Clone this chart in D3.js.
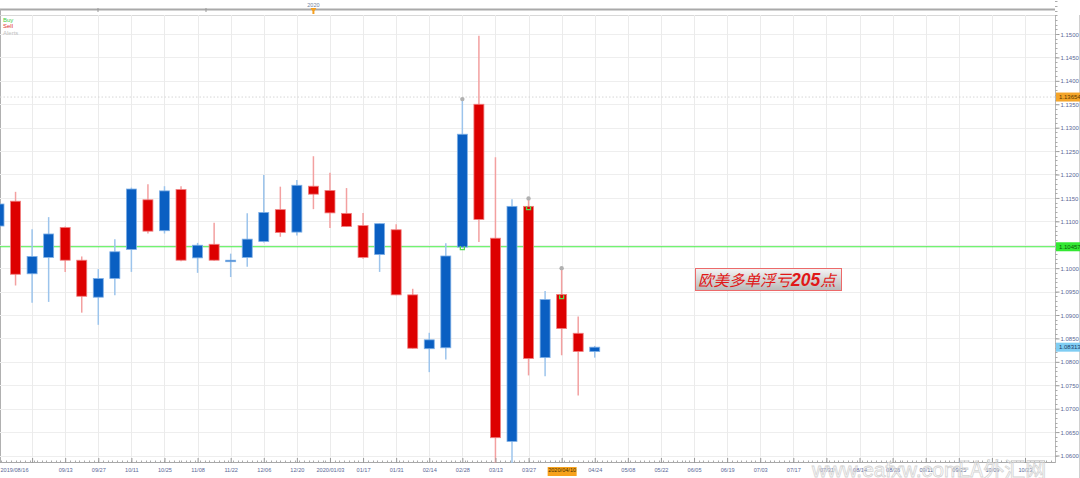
<!DOCTYPE html>
<html><head><meta charset="utf-8">
<script src="https://cdn.jsdelivr.net/npm/d3@7"></script>
<style>body{margin:0;background:#fff;overflow:hidden} svg{display:block}</style>
</head><body><svg id="c" width="1080" height="478"></svg>
<script>
// ---- data ----
const dates = ["2019-08-16","2019-08-23","2019-08-30","2019-09-06","2019-09-13","2019-09-20","2019-09-27","2019-10-04","2019-10-11","2019-10-18","2019-10-25","2019-11-01","2019-11-08","2019-11-15","2019-11-22","2019-11-29","2019-12-06","2019-12-13","2019-12-20","2019-12-27","2020-01-03","2020-01-10","2020-01-17","2020-01-24","2020-01-31","2020-02-07","2020-02-14","2020-02-21","2020-02-28","2020-03-06","2020-03-13","2020-03-20","2020-03-27","2020-04-03","2020-04-10","2020-04-17","2020-04-24"];
const open  = [1.1090,1.1143,1.0988,1.1023,1.1087,1.1017,1.0938,1.0978,1.1040,1.1146,1.1080,1.1168,1.1022,1.1051,1.1015,1.1023,1.1057,1.1125,1.1077,1.1175,1.1166,1.1117,1.1091,1.1029,1.1082,1.0943,1.0828,1.0830,1.1045,1.1350,1.1064,1.0630,1.1132,1.0809,1.0944,1.0861,1.0822];
const high  = [1.1150,1.1163,1.1083,1.1109,1.1089,1.1025,1.0998,1.1062,1.1172,1.1179,1.1175,1.1175,1.1054,1.1097,1.1031,1.1117,1.1199,1.1174,1.1188,1.1239,1.1204,1.1171,1.1118,1.1096,1.1094,1.0956,1.0862,1.1053,1.1361,1.1496,1.1237,1.1147,1.1149,1.0951,1.1000,1.0897,1.0834];
const low   = [1.1065,1.0963,1.0926,1.0928,1.0992,1.0905,1.0879,1.0942,1.0992,1.1074,1.1074,1.1015,1.0990,1.1016,1.0981,1.1003,1.1055,1.1067,1.1070,1.1126,1.1086,1.1088,1.1020,1.0992,1.0942,1.0828,1.0778,1.0805,1.1044,1.1056,1.0581,1.0579,1.0771,1.0769,1.0814,1.0728,1.0809];
const close = [1.1137,1.0987,1.1025,1.1073,1.1017,1.0940,1.0978,1.1035,1.1169,1.1079,1.1165,1.1017,1.1049,1.1017,1.1017,1.1062,1.1119,1.1076,1.1177,1.1158,1.1118,1.1089,1.1023,1.1095,1.0943,1.0829,1.0847,1.1026,1.1286,1.1104,1.0638,1.1132,1.0807,1.0933,1.0871,1.0822,1.08313];

const yTicks = [1.0600,1.0650,1.0700,1.0750,1.0800,1.0850,1.0900,1.0950,1.1000,1.1050,1.1100,1.1150,1.1200,1.1250,1.1300,1.1350,1.1400,1.1450,1.1500];
const xTickDates = ["2019-08-16","2019-08-30","2019-09-13","2019-09-27","2019-10-11","2019-10-25","2019-11-08","2019-11-22","2019-12-06","2019-12-20","2020-01-03","2020-01-17","2020-01-31","2020-02-14","2020-02-28","2020-03-13","2020-03-27","2020-04-10","2020-04-24","2020-05-08","2020-05-22","2020-06-05","2020-06-19","2020-07-03","2020-07-17","2020-07-31","2020-08-14","2020-08-28","2020-09-11","2020-09-25","2020-10-09","2020-10-23"];
const xTickLabels = ["2019/08/16","","09/13","09/27","10/11","10/25","11/08","11/22","12/06","12/20","2020/01/03","01/17","01/31","02/14","02/28","03/13","03/27","2020/04/10","04/24","05/08","05/22","06/05","06/19","07/03","07/17","07/31","08/14","08/28","09/11","09/25","10/09","10/23"];
const highlightLabel = "2020/04/10";

const priceLines = [
  {name:"entry", value:1.10457, label:"1.10457"},
  {name:"peak", value:1.13654, label:"1.13654"},
  {name:"last", value:1.08313, label:"1.08313"}
];
const dotIdx = [28, 32, 34];
const dotVals = [1.1361, 1.1149, 1.1000];
const buyIdx = [28, 32, 34];
const buyVals = [1.1043, 1.1128, 1.0938];
const legendItems = ["Buy","Sell","Alerts"];
const annotation = {pre:"欧美多单浮亏", num:"205", post:"点"};
const topYear = {date:"2019-12-27", text:"2020"};

// ---- layout ----
const W = 1080, H = 478;
const plotR = 1055, plotT = 15, plotB = 463;
const parse = d3.timeParse("%Y-%m-%d");
const x = d3.scaleTime().domain([parse("2019-08-16"), parse("2020-10-23")]).range([-1, 1025]);
const y = d3.scaleLinear().domain([1.06, 1.15]).range([455.5, 34]);

const svg = d3.select("#c");
const font = "'Liberation Sans', Arial, sans-serif";
const axisCol = "#5a6796";

// top bar
svg.append("line").attr("x1",0).attr("x2",plotR).attr("y1",9.5).attr("y2",9.5).attr("stroke","#a9a9a9").attr("stroke-width",2);
svg.append("line").attr("x1",0.5).attr("x2",0.5).attr("y1",9).attr("y2",plotB).attr("stroke","#b0b0b0");
[98,206].forEach(v=>svg.append("line").attr("x1",v).attr("x2",v).attr("y1",8).attr("y2",12).attr("stroke","#999"));
const yx = x(parse(topYear.date));
svg.append("text").attr("x",yx).attr("y",6.5).attr("text-anchor","middle").attr("font-family",font).attr("font-size",5.5).attr("fill","#7080a0").text(topYear.text);
svg.append("path").attr("d",`M${yx-3},8 L${yx+3},8 L${yx+1},11 L${yx+1},14 L${yx-1},14 L${yx-1},11 Z`).attr("fill","#f5a020");

// plot grid
const g = svg.append("g");
g.append("line").attr("x1",0).attr("x2",plotR).attr("y1",plotT+0.5).attr("y2",plotT+0.5).attr("stroke","#d8d8d8");
yTicks.forEach(v=>{
  g.append("line").attr("x1",0).attr("x2",plotR).attr("y1",Math.round(y(v))+0.5).attr("y2",Math.round(y(v))+0.5).attr("stroke","#eeeeee");
});
xTickDates.forEach(d=>{
  const xx = Math.round(x(parse(d)))+0.5;
  if (xx < 2) return;
  g.append("line").attr("x1",xx).attr("x2",xx).attr("y1",plotT).attr("y2",463).attr("stroke","#ebebeb");
});

// legend
const legCols = ["#44cc44","#e03030","#c0c0c0"];
legendItems.forEach((t,i)=>svg.append("text").attr("x",3).attr("y",21.5+i*6.5).attr("font-family",font).attr("font-size",6).attr("fill",legCols[i]).text(t));

// price lines
const entry = priceLines[0], peak = priceLines[1], last = priceLines[2];
svg.append("line").attr("x1",0).attr("x2",plotR).attr("y1",y(peak.value)).attr("y2",y(peak.value)).attr("stroke","#d6d6d6").attr("stroke-dasharray","1.5,2");
svg.append("line").attr("x1",0).attr("x2",plotR).attr("y1",y(entry.value)).attr("y2",y(entry.value)).attr("stroke","#44ee44").attr("stroke-width",1.2);

// bottom axis band (drawn before candles so wicks may reach into tick row)
svg.append("line").attr("x1",0).attr("x2",plotR).attr("y1",462.5).attr("y2",462.5).attr("stroke","#a8a8a8");
const minorDays = d3.timeDay.every(2).range(parse("2019-08-16"), parse("2020-11-06"));
svg.append("g").selectAll("line").data(minorDays).join("line")
  .attr("x1",d=>Math.round(x(d))+0.5).attr("x2",d=>Math.round(x(d))+0.5).attr("y1",460.5).attr("y2",462.5).attr("stroke","#aaa");

// candles
const data = dates.map((d,i)=>({d:parse(d), o:open[i], h:high[i], l:low[i], c:close[i]}));
svg.append("clipPath").attr("id","clip").append("rect").attr("x",0).attr("y",plotT).attr("width",plotR).attr("height",plotB-plotT);
const cg = svg.append("g").attr("clip-path","url(#clip)");
const bw = 10;
data.forEach(k=>{
  const up = k.c >= k.o;
  const cx = x(k.d);
  cg.append("line").attr("x1",cx).attr("x2",cx).attr("y1",y(k.h)).attr("y2",y(k.l))
    .attr("stroke", up ? "#9cc4ec" : "#f3a0a0").attr("stroke-width",1.5);
  const top = y(Math.max(k.o,k.c)), bot = y(Math.min(k.o,k.c));
  cg.append("rect").attr("x",cx-bw/2).attr("y",top).attr("width",bw).attr("height",Math.max(1.5,bot-top))
    .attr("fill", up ? "#0a5fc2" : "#dd0000").attr("stroke", up ? "#7fb0e6" : "#f08080").attr("stroke-width",0.8);
});
// markers
dotIdx.forEach((i,j)=>cg.append("circle").attr("cx",x(data[i].d)).attr("cy",y(dotVals[j])).attr("r",2.2).attr("fill","#b0b0b0"));
buyIdx.forEach((i,j)=>{
  const cx = x(data[i].d), cy = y(buyVals[j]);
  cg.append("path").attr("d",`M${cx-2},${cy-2} L${cx-2},${cy+1.5} L${cx+2},${cy+1.5} L${cx+2},${cy-2}`).attr("fill","none").attr("stroke","#55dd55").attr("stroke-width",1.3);
});

// right axis
svg.append("rect").attr("x",plotR).attr("y",plotT).attr("width",W-plotR).attr("height",H-plotT).attr("fill","#fff");
svg.append("line").attr("x1",plotR+0.5).attr("x2",plotR+0.5).attr("y1",plotT).attr("y2",plotB).attr("stroke","#b8b8b8");
svg.append("line").attr("x1",1079.5).attr("x2",1079.5).attr("y1",plotT).attr("y2",H).attr("stroke","#d0d0d0");
const yAxis = d3.axisRight(y).tickValues(yTicks).tickSize(4).tickFormat(d3.format(".4f"));
const ya = svg.append("g").attr("transform",`translate(${plotR+0.5},0)`).call(yAxis);
ya.select(".domain").remove();
ya.selectAll("line").attr("stroke","#999");
ya.selectAll("text").attr("font-family",font).attr("font-size",6).attr("fill",axisCol).attr("x",5).attr("dy","0.35em");
const minorY = d3.range(1.0600, 1.1581, 0.001);
svg.append("g").selectAll("line").data(minorY).join("line")
  .attr("x1",plotR).attr("x2",plotR+2.5).attr("y1",d=>Math.round(y(d))+0.5).attr("y2",d=>Math.round(y(d))+0.5).attr("stroke","#aaa");

// price tags
function tag(pl, fill, tcol){
  const yy = y(pl.value);
  svg.append("rect").attr("x",plotR+1).attr("y",yy-4.5).attr("width",24).attr("height",9).attr("fill",fill);
  svg.append("text").attr("x",plotR+4).attr("y",yy+2.2).attr("font-family",font).attr("font-size",6).attr("fill",tcol).text(pl.label);
}
tag(peak,"#f4a52a","#5a3a00");
tag(entry,"#33e833","#0a5a0a");
tag(last,"#7fcdf3","#1a3a6a");

// bottom labels
svg.append("rect").attr("x",0).attr("y",plotB).attr("width",plotR).attr("height",H-plotB).attr("fill","#fff");
const xAxis = d3.axisBottom(x).tickValues(xTickDates.map(parse)).tickSize(5).tickFormat((d,i)=>xTickLabels[i]);
const xa = svg.append("g").attr("transform","translate(0,458)").call(xAxis);
xa.select(".domain").remove();
xa.selectAll("line").attr("stroke","#999");
xa.selectAll("text").attr("font-family",font).attr("font-size",5.6).attr("fill",axisCol).attr("y",10);
xa.selectAll(".tick").filter((d,i)=>i===0).select("text").attr("text-anchor","start").attr("x",1);
xa.selectAll(".tick").filter((d,i)=>xTickLabels[i]===highlightLabel).each(function(){
  const t = d3.select(this);
  t.insert("rect","text").attr("x",-14.5).attr("y",9).attr("width",29).attr("height",9).attr("fill","#f7a21b");
  t.select("text").attr("fill","#4a3000");
});

// annotation
const defs = svg.append("defs");
const grad = defs.append("linearGradient").attr("id","ag").attr("x1",0).attr("x2",0).attr("y1",0).attr("y2",1);
grad.append("stop").attr("offset","0%").attr("stop-color","#f4f4f4");
grad.append("stop").attr("offset","100%").attr("stop-color","#b9b9b9");
svg.append("rect").attr("x",695.5).attr("y",268.5).attr("width",146).attr("height",22).attr("fill","url(#ag)").attr("stroke","#ec6a6a");
const at = svg.append("text").attr("x",698).attr("y",285.5).attr("fill","#e01818").attr("font-style","italic");
at.append("tspan").attr("font-family","'Noto Sans CJK SC', sans-serif").attr("font-size",15.5).text(annotation.pre);
at.append("tspan").attr("font-family","'Liberation Sans', Arial, sans-serif").attr("font-weight","bold").attr("font-size",17.5).text(annotation.num);
at.append("tspan").attr("font-family","'Noto Sans CJK SC', sans-serif").attr("font-size",15.5).text(annotation.post);

// watermark
svg.append("text").attr("x",812).attr("y",477).attr("font-family","'Liberation Sans', Arial, sans-serif").attr("font-size",21).attr("fill","none").attr("stroke","#d4d4d4").attr("stroke-width",0.8).text("www.eafxw.com");
svg.append("text").attr("x",958).attr("y",477).attr("font-family","'Noto Sans CJK SC', sans-serif").attr("font-size",21).attr("fill","none").attr("stroke","#d4d4d4").attr("stroke-width",0.8).text("EA外汇网");
</script></body></html>
